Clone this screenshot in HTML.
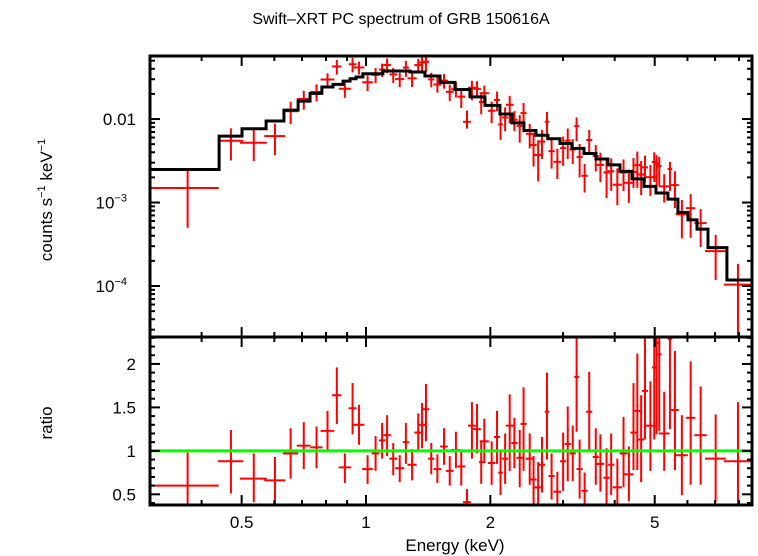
<!DOCTYPE html>
<html><head><meta charset="utf-8"><style>
html,body{margin:0;padding:0;background:#fff;}
svg{display:block;font-family:"Liberation Sans",sans-serif;}
</style></head><body>
<svg id="chart" width="758" height="556" viewBox="0 0 758 556" xmlns="http://www.w3.org/2000/svg">
<text x="401" y="24" font-size="16" text-anchor="middle">Swift–XRT PC spectrum of GRB 150616A</text>
<text transform="translate(52,200) rotate(-90)" font-size="17" text-anchor="middle">counts s<tspan font-size="11" dy="-7">−1</tspan><tspan dy="7"> keV</tspan><tspan font-size="11" dy="-7">−1</tspan></text>
<text transform="translate(52,423) rotate(-90)" font-size="17" text-anchor="middle">ratio</text>
<text x="455" y="551" font-size="17" text-anchor="middle">Energy (keV)</text>
<g id="marks"></g>
<g id="frames"></g>
</svg>
<script>
// data: energy centre (keV), half width (keV), ratio, ratio error up/down
const energy=[0.37,0.471,0.535,0.602,0.657,0.707,0.759,0.807,0.850,0.889,0.928,0.962,1.009,1.055,1.094,1.125,1.164,1.207,1.249,1.293,1.338,1.367,1.397,1.439,1.489,1.545,1.595,1.651,1.701,1.756,1.805,1.857,1.901,1.934,2.015,2.076,2.117,2.172,2.228,2.287,2.356,2.407,2.491,2.545,2.611,2.667,2.743,2.814,2.906,3.001,3.079,3.166,3.235,3.290,3.383,3.471,3.600,3.694,3.823,3.923,4.060,4.202,4.330,4.442,4.538,4.636,4.736,4.881,4.987,5.052,5.128,5.272,5.443,5.597,5.817,6.109,6.459,7.023,7.953];
const halfWidth=[0.07,0.033,0.040,0.035,0.028,0.027,0.026,0.031,0.022,0.030,0.020,0.029,0.030,0.023,0.019,0.024,0.025,0.031,0.021,0.033,0.029,0.023,0.024,0.025,0.032,0.033,0.034,0.042,0.036,0.038,0.039,0.040,0.024,0.050,0.043,0.036,0.027,0.037,0.048,0.039,0.040,0.041,0.053,0.044,0.056,0.046,0.035,0.048,0.062,0.051,0.053,0.054,0.042,0.056,0.058,0.059,0.062,0.079,0.066,0.067,0.104,0.090,0.111,0.076,0.078,0.079,0.081,0.146,0.064,0.065,0.066,0.158,0.070,0.120,0.199,0.157,0.221,0.406,0.596];
const ratio=[0.60,0.88,0.68,0.66,0.97,1.06,1.04,1.23,1.64,0.81,1.49,1.30,0.79,0.97,1.12,1.18,0.91,0.80,1.10,0.84,1.21,1.30,1.48,0.91,0.79,1.05,0.77,1.01,0.82,0.41,1.29,1.25,0.87,1.11,0.86,1.16,0.75,0.91,1.29,1.09,0.92,1.31,0.91,0.67,0.58,0.84,1.45,0.71,0.53,0.88,1.08,0.97,1.85,0.79,0.54,1.45,0.93,0.85,0.69,0.84,0.58,0.97,0.73,1.21,1.46,1.13,1.69,1.29,1.96,2.24,2.11,1.20,2.29,1.47,0.95,1.38,1.18,0.91,0.88];
const errUp=[0.38,0.36,0.29,0.27,0.29,0.27,0.24,0.23,0.32,0.16,0.29,0.23,0.16,0.20,0.20,0.23,0.18,0.15,0.22,0.18,0.22,0.25,0.29,0.18,0.17,0.21,0.17,0.21,0.19,0.15,0.27,0.29,0.23,0.26,0.25,0.30,0.24,0.29,0.36,0.29,0.32,0.42,0.29,0.27,0.29,0.32,0.45,0.26,0.23,0.33,0.43,0.32,0.49,0.34,0.21,0.46,0.33,0.34,0.34,0.36,0.33,0.42,0.32,0.57,0.66,0.51,0.65,0.51,0.6,0.6,0.6,0.48,0.5,0.68,0.46,0.65,0.56,0.51,0.68];
const errDown=[0.4,0.37,0.27,0.27,0.29,0.27,0.24,0.23,0.33,0.18,0.30,0.23,0.17,0.20,0.21,0.24,0.19,0.16,0.25,0.18,0.22,0.27,0.37,0.18,0.16,0.21,0.17,0.21,0.22,0.07,0.38,0.28,0.25,0.25,0.25,0.31,0.26,0.29,0.52,0.29,0.34,0.54,0.30,0.30,0.30,0.32,0.55,0.27,0.2,0.34,0.43,0.32,0.63,0.34,0.2,0.45,0.32,0.32,0.35,0.35,0.25,0.39,0.31,0.43,0.68,0.49,0.56,0.52,0.83,1.05,0.88,0.43,1.04,0.69,0.46,0.77,0.57,0.50,0.7];
// model step function: bin edges (keV) and values (counts/s/keV)
const modelEdges=[0.30,0.441,0.501,0.573,0.633,0.685,0.732,0.782,0.832,0.880,0.915,0.946,0.983,1.099,1.278,1.389,1.511,1.642,1.785,1.941,2.110,2.256,2.412,2.579,2.757,2.949,3.152,3.371,3.604,3.853,4.120,4.405,4.710,5.035,5.383,5.691,6.018,6.329,6.729,7.478,8.6];
const modelValues=[2.49e-3,6.25e-3,7.65e-3,9.46e-3,0.0128,0.0164,0.0203,0.0242,0.026,0.0285,0.0304,0.0319,0.0349,0.0376,0.0366,0.0328,0.0275,0.0226,0.0184,0.0146,0.0115,0.0090,0.0073,0.0064,0.0058,0.0051,0.00445,0.00387,0.00332,0.00282,0.00236,0.00192,0.00156,0.00130,0.00110,0.00076,0.00062,0.00048,0.000288,0.000118];
const xTickLabels=[0.5,1,2,5];
const ratioTickLabels=[0.5,1,1.5,2];

const NS="http://www.w3.org/2000/svg";
const X0=150,X1=752,TOP0=56,TOP1=337,BOT1=505;
const xmin=0.3,xmax=8.6,ymin=2.45e-5,ymax=0.0569,rmin=0.377,rmax=2.31;
const xs=e=>X0+(X1-X0)*(Math.log10(e)-Math.log10(xmin))/(Math.log10(xmax)-Math.log10(xmin));
const ys=v=>TOP1-(TOP1-TOP0)*(Math.log10(Math.max(v,1e-9))-Math.log10(ymin))/(Math.log10(ymax)-Math.log10(ymin));
const yr=r=>BOT1-(BOT1-TOP1)*(r-rmin)/(rmax-rmin);
function mk(tag,attrs,parent){const el=document.createElementNS(NS,tag);for(const k in attrs)el.setAttribute(k,attrs[k]);parent.appendChild(el);return el;}
const marks=document.getElementById('marks'),frames=document.getElementById('frames');
function modelAt(e){for(let i=0;i<modelValues.length;i++){if(e<modelEdges[i+1])return modelValues[i];}return modelValues[modelValues.length-1];}

function tick(x1,y1,x2,y2,name){const t=mk('line',{x1,y1,x2,y2,stroke:'#000','stroke-width':2},frames);}
const minorE=[0.3,0.4,0.6,0.7,0.8,0.9,3,4,6,7,8];
minorE.forEach(e=>{const x=xs(e);tick(x,TOP0,x,TOP0+5,'x-minor-tick');tick(x,TOP1,x,TOP1-5,'x-minor-tick');tick(x,TOP1,x,TOP1+5,'x-minor-tick');tick(x,BOT1,x,BOT1-5,'x-minor-tick');});
xTickLabels.forEach(e=>{const x=xs(e);tick(x,TOP0,x,TOP0+10,'x-major-tick');tick(x,TOP1-10,x,TOP1+10,'x-major-tick');tick(x,BOT1,x,BOT1-10,'x-major-tick');
 const t=mk('text',{x:x,y:528,'font-size':17,'text-anchor':'middle'},frames);t.textContent=String(e);});
for(let d=-5;d<=-1;d++){for(let m=1;m<=9;m++){const v=m*Math.pow(10,d);if(v<ymin||v>ymax)continue;const y=ys(v);const L=m===1?10:5;tick(X0,y,X0+L,y,'y-tick');tick(X1,y,X1-L,y,'y-tick');}}
[[0.01,'0.01',null],[1e-3,'10','−3'],[1e-4,'10','−4']].forEach(([v,b,s])=>{const t=mk('text',{x:s?127:136,y:ys(v)+6,'font-size':17,'text-anchor':'end'},frames);t.textContent=b;if(s){const ts=mk('tspan',{'font-size':11,dy:-7},t);ts.textContent=s;}});
for(let r=0.4;r<=2.31;r+=0.1){const y=yr(r);const maj=Math.abs(r*2-Math.round(r*2))<1e-6;const L=maj?10:5;tick(X0,y,X0+L,y,'ratio-tick');tick(X1,y,X1-L,y,'ratio-tick');}
ratioTickLabels.forEach(r=>{const t=mk('text',{x:136,y:yr(r)+6,'font-size':17,'text-anchor':'end'},frames);t.textContent=String(r);});
const f1=mk('rect',{x:X0,y:TOP0,width:X1-X0,height:TOP1-TOP0,fill:'none',stroke:'#000','stroke-width':3},frames);


const f2=mk('rect',{x:X0,y:TOP1,width:X1-X0,height:BOT1-TOP1,fill:'none',stroke:'#000','stroke-width':3},frames);



const defs=mk('defs',{},marks);
const c1=mk('clipPath',{id:'c1'},defs);mk('rect',{x:X0,y:TOP0,width:X1-X0,height:TOP1-TOP0},c1);
const c2=mk('clipPath',{id:'c2'},defs);mk('rect',{x:X0,y:TOP1,width:X1-X0,height:BOT1-TOP1},c2);
const gTop=mk('g',{'clip-path':'url(#c1)'},marks);
const gBot=mk('g',{'clip-path':'url(#c2)'},marks);

energy.forEach((e,i)=>{
 const m=modelAt(e);const xa=xs(e-halfWidth[i]),xb=xs(e+halfWidth[i]),xc=xs(e);
 const g=mk('g',{stroke:'#f00','stroke-width':2},gTop);
 
 
 const v=m*ratio[i];
 mk('line',{x1:xa,y1:ys(v),x2:xb,y2:ys(v)},g);
 mk('line',{x1:xc,y1:ys(m*(ratio[i]+errUp[i])),x2:xc,y2:ys(m*Math.max(ratio[i]-errDown[i],1e-4))},g);
 const g2=mk('g',{stroke:'#f00','stroke-width':2},gBot);
 
 
 mk('line',{x1:xa,y1:yr(ratio[i]),x2:xb,y2:yr(ratio[i])},g2);
 mk('line',{x1:xc,y1:yr(ratio[i]+errUp[i]),x2:xc,y2:yr(ratio[i]-errDown[i])},g2);
});
let d='';modelValues.forEach((v,i)=>{const xa=xs(modelEdges[i]),xb=xs(modelEdges[i+1]),y=ys(v);d+=(i===0?'M':'L')+xa+','+y+'L'+xb+','+y;});
const mp=mk('path',{d,fill:'none',stroke:'#000','stroke-width':3},gTop);


const gl=mk('line',{x1:X0,y1:yr(1),x2:X1,y2:yr(1),stroke:'#0f0','stroke-width':3},gBot);


</script>
</body></html>
